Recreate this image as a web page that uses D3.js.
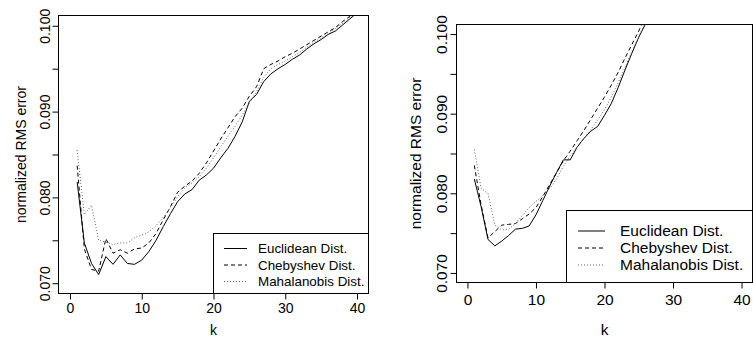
<!DOCTYPE html>
<html>
<head>
<meta charset="utf-8">
<script src="https://cdn.jsdelivr.net/npm/d3@7"></script>
<style>
  html, body { margin: 0; padding: 0; background: #fff; }
  svg { display: block; }
  text { font-family: "Liberation Sans", Arial, Helvetica, sans-serif; fill: #000; }
</style>
</head>
<body>
<svg id="chart" width="753" height="338"></svg>
<script>
// ---------------- data ----------------
const seriesNames = ["Euclidean Dist.", "Chebyshev Dist.", "Mahalanobis Dist."];

const kLeft = [1,2,3,4,5,6,7,8,9,10,11,12,13,14,15,16,17,18,19,20,
               21,22,23,24,25,26,27,28,29,30,31,32,33,34,35,36,37,38,39,40];
const euclidLeft = [0.0818,0.0747,0.0723,0.0710,0.0731,0.0722,0.0733,0.0723,0.0722,0.0727,
                    0.0737,0.0750,0.0766,0.0781,0.0795,0.0804,0.0809,0.0820,0.0826,0.0834,
                    0.0846,0.0857,0.0871,0.0888,0.0912,0.0920,0.0935,0.0944,0.0950,0.0955,
                    0.0961,0.0966,0.0973,0.0979,0.0984,0.0990,0.0994,0.1001,0.1008,0.1015];
const chebyLeft  = [0.0837,0.0740,0.0716,0.0714,0.0752,0.0735,0.0739,0.0735,0.0740,0.0741,
                    0.0747,0.0758,0.0774,0.0789,0.0806,0.0813,0.0819,0.0828,0.0840,0.0854,
                    0.0868,0.0881,0.0894,0.0904,0.0918,0.0929,0.0950,0.0955,0.0959,0.0964,
                    0.0968,0.0973,0.0978,0.0983,0.0988,0.0993,0.0998,0.1005,0.1011,0.1017];
const mahaLeft   = [0.0855,0.0780,0.0791,0.0750,0.0748,0.0745,0.0747,0.0747,0.0753,0.0756,
                    0.0760,0.0767,0.0777,0.0788,0.0801,0.0811,0.0817,0.0824,0.0834,0.0846,
                    0.0859,0.0871,0.0883,0.0896,0.0910,0.0923,0.0940,0.0950,0.0955,0.0959,
                    0.0964,0.0969,0.0975,0.0981,0.0986,0.0991,0.0997,0.1003,0.1010,0.1016];

const kRight = [1,2,3,4,5,6,7,8,9,10,11,12,13,14,15,16,17,18,19,20,21,22,23,24,25,26];
const euclidRight = [0.0818,0.0783,0.0742,0.0734,0.0740,0.0747,0.0755,0.0756,0.0759,0.0773,
                     0.0791,0.0809,0.0826,0.0842,0.0842,0.0858,0.0869,0.0878,0.0884,0.0898,
                     0.0913,0.0933,0.0955,0.0976,0.0996,0.1013];
const chebyRight  = [0.0835,0.0785,0.0744,0.0752,0.0760,0.0761,0.0762,0.0768,0.0774,0.0782,
                     0.0796,0.0811,0.0826,0.0841,0.0853,0.0866,0.0879,0.0893,0.0907,0.0921,
                     0.0936,0.0952,0.0970,0.0987,0.1004,0.1022];
const mahaRight   = [0.0855,0.0806,0.0800,0.0760,0.0754,0.0755,0.0762,0.0772,0.0782,0.0790,
                     0.0797,0.0806,0.0818,0.0834,0.0847,0.0858,0.0869,0.0880,0.0892,0.0905,
                     0.0921,0.0939,0.0958,0.0978,0.0997,0.1015];

const xTicks = [0, 10, 20, 30, 40];
const xTickLabels = ["0", "10", "20", "30", "40"];
const yTicks = [0.070, 0.075, 0.080, 0.085, 0.090, 0.095, 0.100];
const yTickLabels = ["0.070", "", "0.080", "", "0.090", "", "0.100"];
const xDomain = [-1.6, 41.6];
const yDomain = [0.0688, 0.1012];
const xTitle = "k";
const yTitle = "normalized RMS error";

// ---------------- drawing ----------------
const svg = d3.select("#chart");
const styles = [
  { dash: null, color: "#000" },
  { dash: "4,3", color: "#000" },
  { dash: "1,2", color: "#666" }
];

function drawPanel(cfg, ks, seriesList, id) {
  const x = d3.scaleLinear().domain(xDomain).range([cfg.left, cfg.right]);
  const y = d3.scaleLinear().domain(yDomain).range([cfg.bottom, cfg.top]);
  const g = svg.append("g");

  g.append("clipPath").attr("id", "clip" + id)
    .append("rect")
    .attr("x", cfg.left).attr("y", cfg.top)
    .attr("width", cfg.right - cfg.left).attr("height", cfg.bottom - cfg.top);

  const line = d3.line().x(d => x(d[0])).y(d => y(d[1]));
  const lg = g.append("g").attr("clip-path", `url(#clip${id})`);
  seriesList.forEach((vals, i) => {
    lg.append("path")
      .datum(ks.map((k, j) => [k, vals[j]]))
      .attr("d", line)
      .attr("fill", "none")
      .attr("stroke", styles[i].color)
      .attr("stroke-width", 1)
      .attr("stroke-dasharray", styles[i].dash);
  });

  // x axis
  const xa = g.append("g").attr("transform", `translate(0,${cfg.bottom})`)
    .call(d3.axisBottom(x).tickValues(xTicks).tickFormat((d, i) => xTickLabels[i])
      .tickSizeInner(cfg.tick).tickSizeOuter(0).tickPadding(cfg.xPad));
  xa.select(".domain").remove();
  xa.selectAll("line").attr("stroke", "#000");
  xa.selectAll("text").attr("font-size", cfg.fs + "px")
    .style("font-family", "'Liberation Sans', Arial, sans-serif").attr("fill", "#000");

  // y axis
  const ya = g.append("g").attr("transform", `translate(${cfg.left},0)`)
    .call(d3.axisLeft(y).tickValues(yTicks).tickFormat((d, i) => yTickLabels[i])
      .tickSizeInner(cfg.tick).tickSizeOuter(0));
  ya.select(".domain").remove();
  ya.selectAll("line").attr("stroke", "#000");
  ya.selectAll("text")
    .attr("transform", "rotate(-90)")
    .attr("x", 0).attr("y", -cfg.yPad).attr("dy", null)
    .attr("text-anchor", "middle")
    .attr("font-size", cfg.fs + "px")
    .style("font-family", "'Liberation Sans', Arial, sans-serif").attr("fill", "#000");

  // box
  g.append("rect")
    .attr("x", cfg.left).attr("y", cfg.top)
    .attr("width", cfg.right - cfg.left).attr("height", cfg.bottom - cfg.top)
    .attr("fill", "none").attr("stroke", "#000").attr("stroke-width", 1);

  // titles
  g.append("text").attr("x", (cfg.left + cfg.right) / 2).attr("y", cfg.kBase)
    .attr("text-anchor", "middle").attr("font-size", cfg.fs + "px").text(xTitle);
  g.append("text")
    .attr("transform", `translate(${cfg.yTitleBase},${(cfg.top + cfg.bottom) / 2}) rotate(-90)`)
    .attr("text-anchor", "middle").attr("font-size", cfg.fs + "px").text(yTitle);

  // legend
  const L = cfg.legend;
  g.append("rect").attr("x", L.x0).attr("y", L.y0)
    .attr("width", cfg.right - L.x0).attr("height", cfg.bottom - L.y0)
    .attr("fill", "#fff").attr("stroke", "#000").attr("stroke-width", 1);
  seriesNames.forEach((name, i) => {
    const yy = L.rows[i];
    g.append("line").attr("x1", L.s0).attr("x2", L.s1).attr("y1", yy).attr("y2", yy)
      .attr("stroke", styles[i].color).attr("stroke-width", 1)
      .attr("stroke-dasharray", styles[i].dash);
    g.append("text").attr("x", L.tx).attr("y", yy).attr("dy", "0.35em")
      .attr("font-size", L.fs + "px").text(name);
  });
}

drawPanel({
  left: 58.5, right: 368.5, top: 15.5, bottom: 293.5,
  tick: 6, xPad: 4, yPad: 9, fs: 14, kBase: 335, yTitleBase: 26,
  legend: { x0: 213.5, y0: 233.5, rows: [248.5, 265, 281.5], s0: 224, s1: 247, tx: 258, fs: 13.4 }
}, kLeft, [euclidLeft, chebyLeft, mahaLeft], "L");

drawPanel({
  left: 456.5, right: 752.5, top: 24.5, bottom: 282.5,
  tick: 6, xPad: 5, yPad: 10, fs: 15.5, kBase: 335, yTitleBase: 421,
  legend: { x0: 566.5, y0: 210.5, rows: [231, 248, 265], s0: 578, s1: 605, tx: 620, fs: 15.5 }
}, kRight, [euclidRight, chebyRight, mahaRight], "R");
</script>
</body>
</html>
